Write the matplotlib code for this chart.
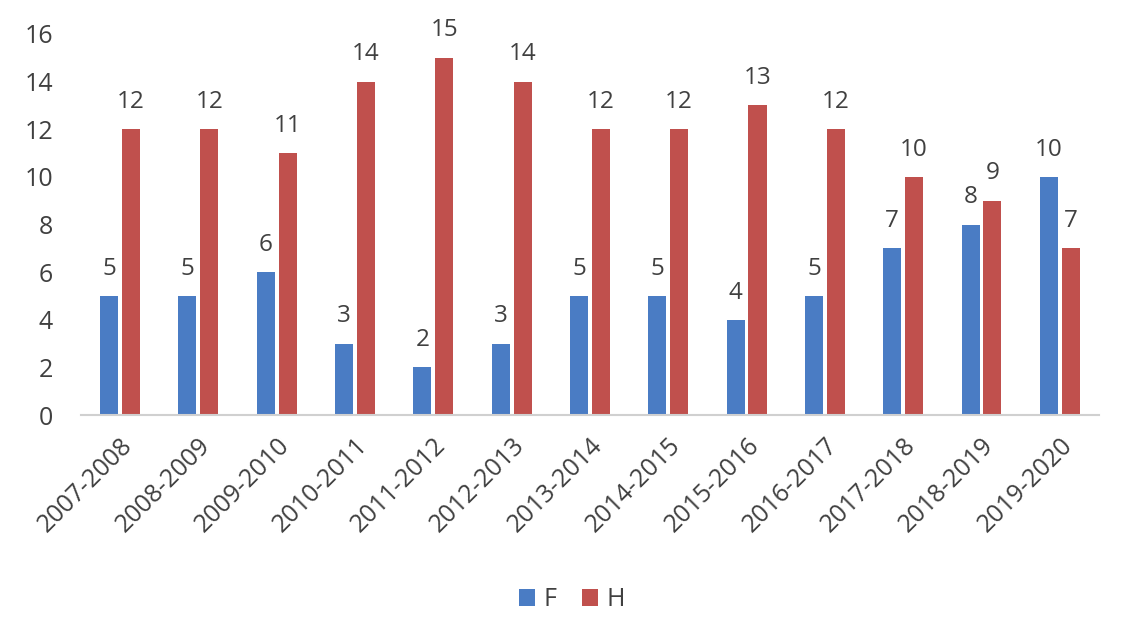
import matplotlib
matplotlib.use("Agg")
import matplotlib.pyplot as plt
import numpy as np

categories = ["2007-2008", "2008-2009", "2009-2010", "2010-2011", "2011-2012",
              "2012-2013", "2013-2014", "2014-2015", "2015-2016", "2016-2017",
              "2017-2018", "2018-2019", "2019-2020"]
F = [5, 5, 6, 3, 2, 3, 5, 5, 4, 5, 7, 8, 10]
H = [12, 12, 11, 14, 15, 14, 12, 12, 13, 12, 10, 9, 7]

plt.rcParams['font.family'] = ['Open Sans', 'DejaVu Sans']
txt = '#404040'
blue = '#4A7CC4'
red = '#C0504D'

fig = plt.figure(figsize=(11.22, 6.28), dpi=100)
ax = fig.add_axes([0.072, 0.339, 0.9075, 0.607])

x = np.arange(len(categories))
w = 0.23
off = 0.14
b1 = ax.bar(x - off, F, w, color=blue, label='F')
b2 = ax.bar(x + off, H, w, color=red, label='H')
for bars, vals in ((b1, F), (b2, H)):
    for rect, v in zip(bars, vals):
        ax.annotate(str(v), (rect.get_x() + rect.get_width() / 2, v),
                    xytext=(0, 11), textcoords='offset points',
                    ha='center', va='bottom', fontsize=17.5, color=txt)

ax.set_xlim(-0.5, len(categories) - 0.5)
ax.set_ylim(0, 16)
ax.set_yticks(range(0, 17, 2))
ax.set_xticks(x)
ax.set_xticklabels(categories, rotation=45, ha='right', rotation_mode='anchor')
ax.tick_params(axis='both', length=0, labelsize=18, labelcolor=txt)
ax.tick_params(axis='y', pad=20)
ax.tick_params(axis='x', pad=13)
for s in ('top', 'right', 'left'):
    ax.spines[s].set_visible(False)
ax.spines['bottom'].set_color('#D0D0D0')
ax.spines['bottom'].set_linewidth(1.5)

fig.legend(handles=[b1, b2], labels=['F', 'H'], loc='center',
           bbox_to_anchor=(0.51, 0.045), ncol=2, frameon=False,
           fontsize=18, labelcolor=txt, handlelength=0.65, handleheight=0.65,
           handletextpad=0.35, columnspacing=1.0)

fig.savefig('out.png', dpi=100)
